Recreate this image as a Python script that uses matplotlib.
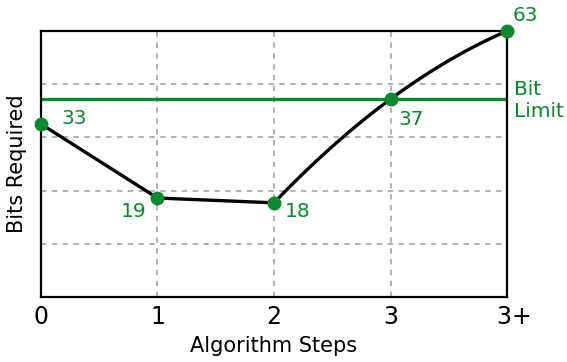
import matplotlib
matplotlib.use('Agg')
import numpy as np
from matplotlib import pyplot as plt

# Data
steps = [0, 1, 2, 3, 4]
step_labels = ['0', '1', '2', '3', '3+']
heights = [3.25, 1.86, 1.77, 3.72, 5.0]   # plotted height in grid units
bits = [33, 19, 18, 37, 63]               # value labels
bit_limit = 3.72

green = '#0a8a2e'


def main():
    fig = plt.figure(figsize=(5.67, 3.62), dpi=100)
    ax = fig.add_axes([0.0723, 0.1796, 0.8219, 0.7348])

    ax.set_xlim(0, 4)
    ax.set_ylim(0, 5)
    ax.set_xticks(steps)
    # "3+" sits a little right of its tick in the reference
    ax.set_xticklabels(step_labels[:-1] + ['  ' + step_labels[-1]], fontsize=17)
    ax.set_yticks([1, 2, 3, 4])
    ax.set_yticklabels([])
    ax.tick_params(length=0, pad=6)
    ax.grid(True, color='#aaaaaa', linestyle=(0, (3, 3)), linewidth=1.3)
    for s in ax.spines.values():
        s.set_linewidth(1.6)
        s.set_color('black')

    # straight part
    ax.plot(steps[:3], heights[:3], color='black', linewidth=2.4, zorder=3,
            solid_capstyle='round')

    # smooth part through the last three points (quadratic bezier)
    p0 = np.array([steps[2], heights[2]])
    mid = np.array([steps[3], heights[3]])
    p2 = np.array([steps[4], heights[4]])
    ctrl = 2 * mid - (p0 + p2) / 2
    t = np.linspace(0, 1, 200)[:, None]
    curve = (1 - t) ** 2 * p0 + 2 * (1 - t) * t * ctrl + t ** 2 * p2
    ax.plot(curve[:, 0], curve[:, 1], color='black', linewidth=2.4, zorder=3,
            solid_capstyle='round', clip_on=False)

    # bit limit line
    ax.axhline(bit_limit, color=green, linewidth=2.4, zorder=2)
    ax.annotate('Bit\nLimit', xy=(4, bit_limit), xytext=(5, -1),
                textcoords='offset points', color=green, fontsize=14.5,
                ha='left', va='center', linespacing=1.25, annotation_clip=False)

    ax.plot(steps, heights, 'o', color=green, markersize=9, zorder=4,
            clip_on=False)

    offsets = [(15, 4.3, 'left'), (-8, -9.4, 'right'), (8, -6, 'left'),
               (6, -15, 'left'), (4, 11, 'left')]
    for x, y, b, (dx, dy, ha) in zip(steps, heights, bits, offsets):
        ax.annotate(str(b), xy=(x, y), xytext=(dx, dy),
                    textcoords='offset points', color=green, fontsize=14.5,
                    ha=ha, va='center', annotation_clip=False)

    ax.set_xlabel('Algorithm Steps', fontsize=15, labelpad=5)
    ax.set_ylabel('Bits Required', fontsize=15, labelpad=4)

    fig.savefig('out.png', dpi=100)


if __name__ == "__main__":
    main()
